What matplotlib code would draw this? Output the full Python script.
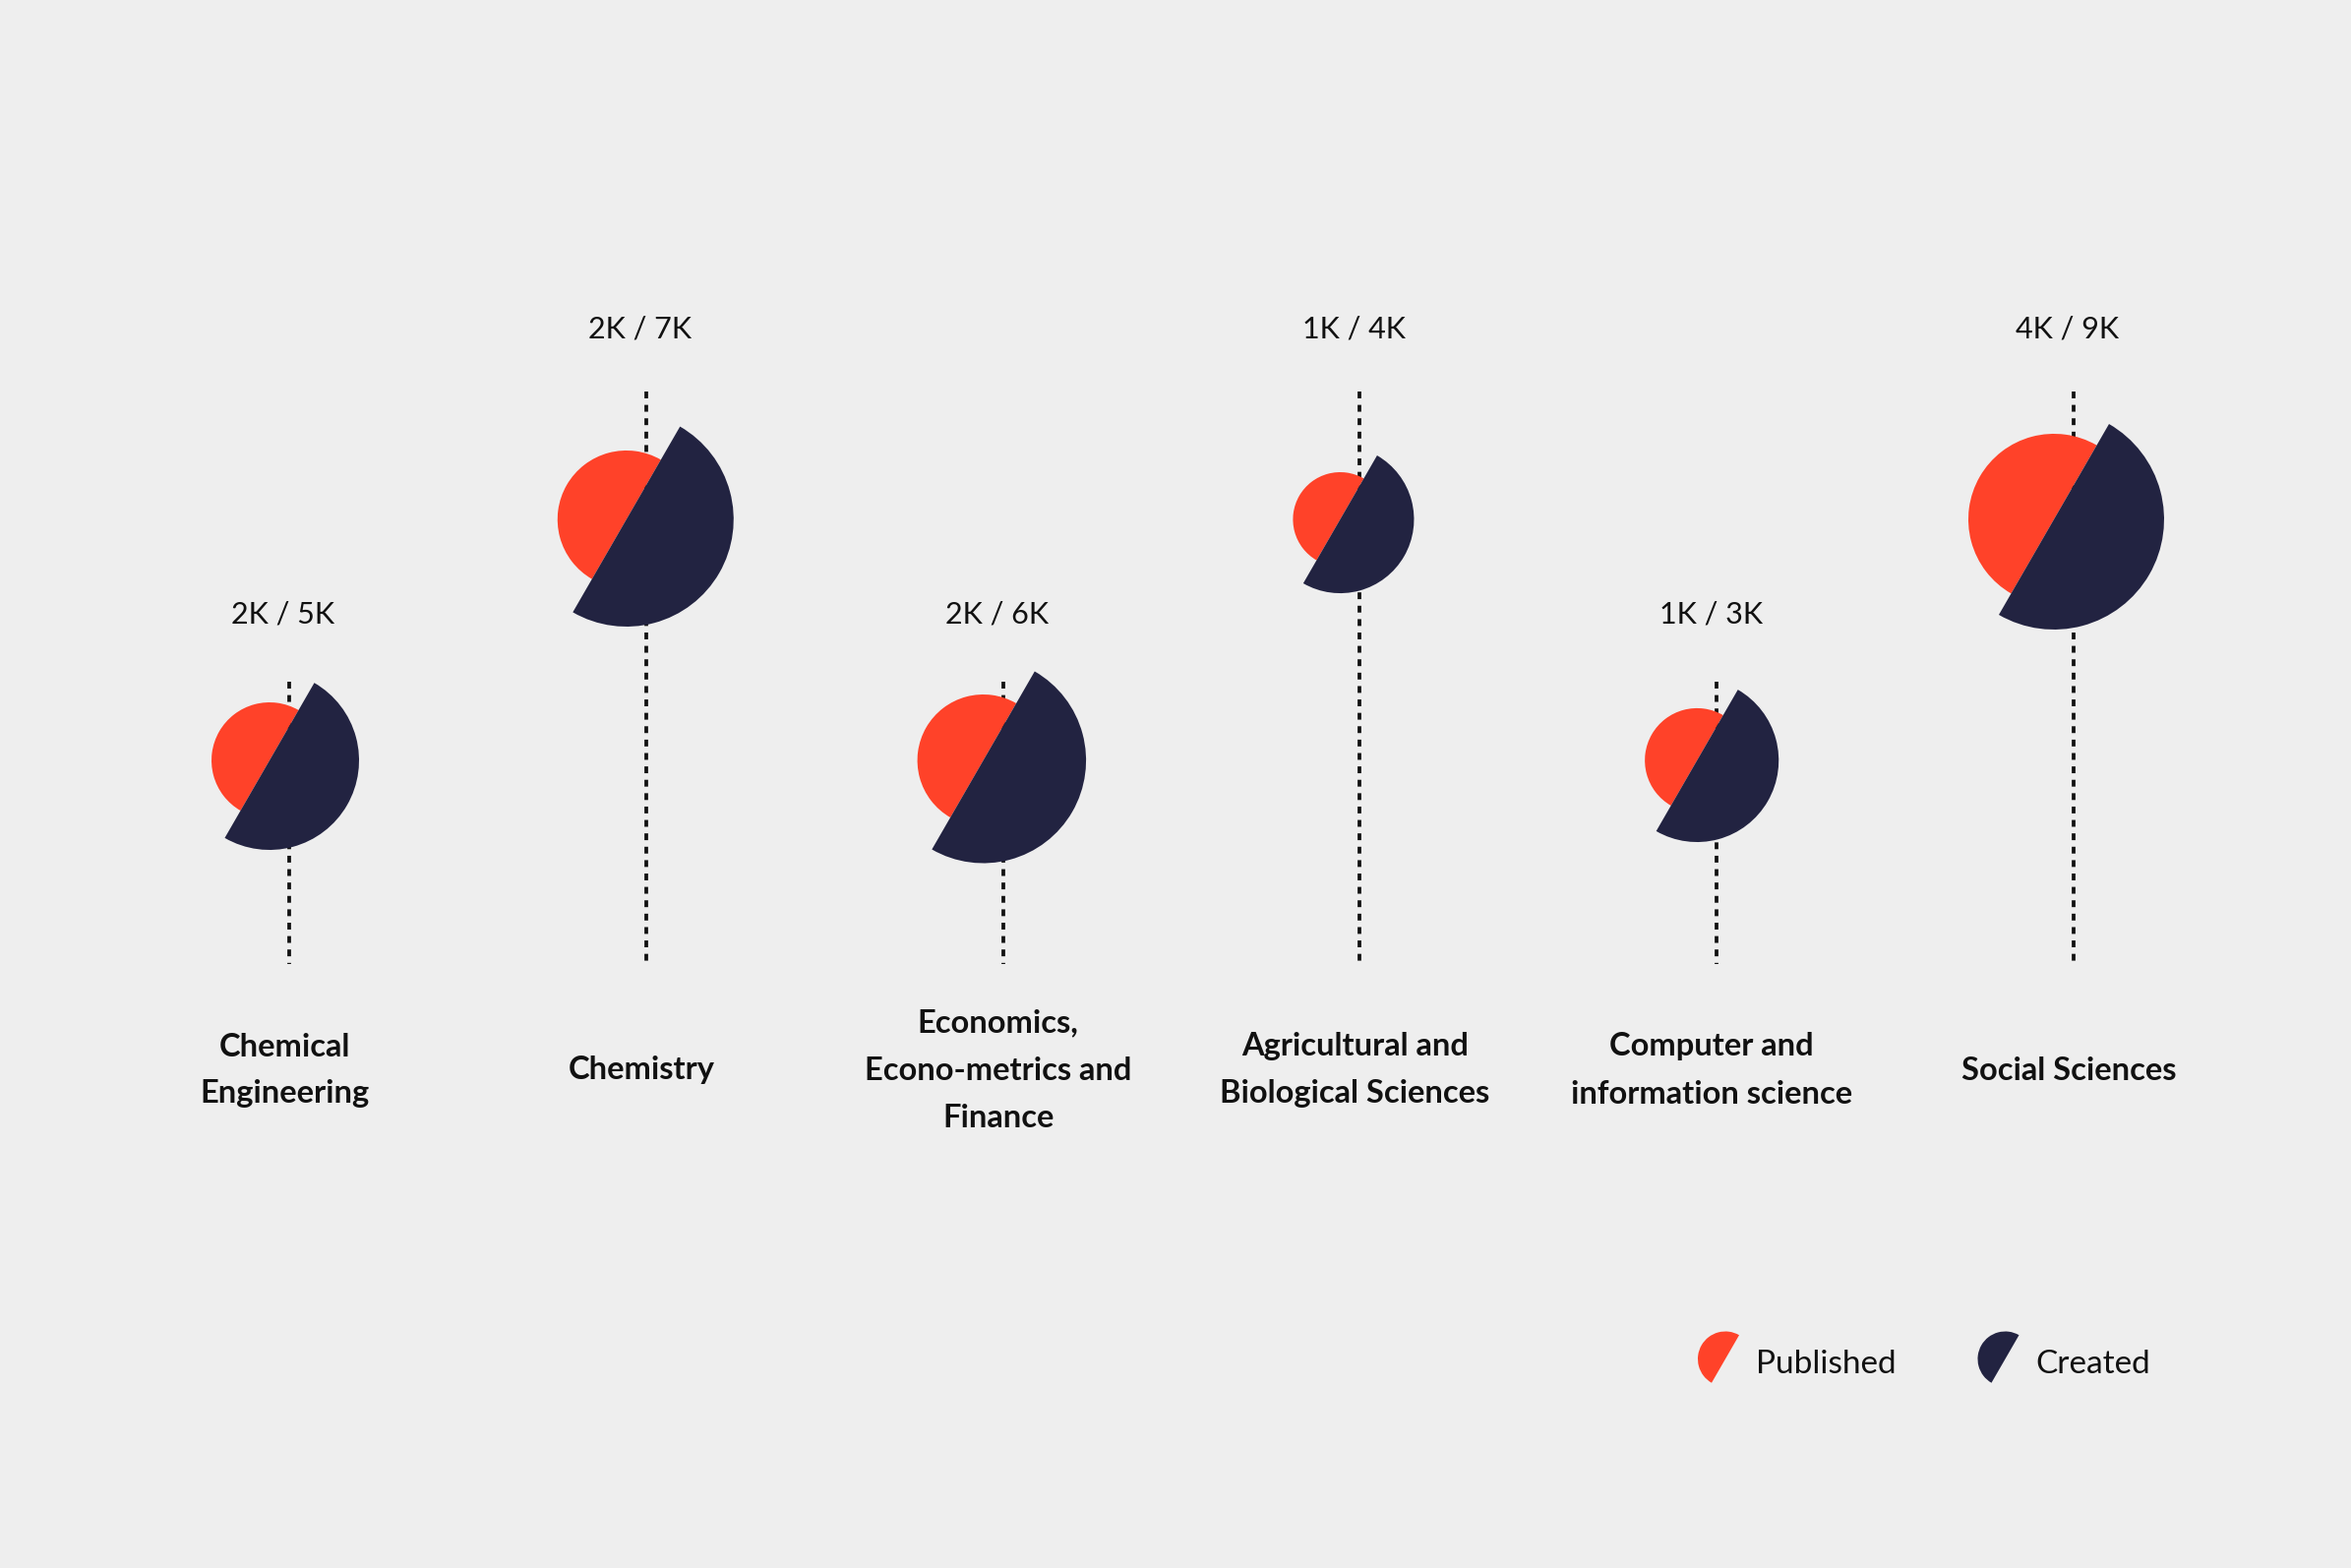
import numpy as np
import matplotlib
matplotlib.use("Agg")
import matplotlib.pyplot as plt
from matplotlib.patches import Wedge

# data (values in thousands)
categories = ["Chemical\nEngineering", "Chemistry", "Economics,\nEcono-metrics and\nFinance",
              "Agricultural and\nBiological Sciences", "Computer and\ninformation science",
              "Social Sciences"]
value_labels = ["2K / 5K", "2K / 7K", "2K / 6K", "1K / 4K", "1K / 3K", "4K / 9K"]
published = [2.10, 2.96, 2.71, 1.39, 1.70, 4.57]
created = [5.00, 7.17, 6.59, 3.40, 4.16, 7.57]
legend_names = ["Published", "Created"]

RED = "#FF4229"
NAVY = "#222341"
BG = "#EEEEEE"
W, H = 2390, 1594

plt.rcParams['lines.scale_dashes'] = False
plt.rcParams['font.family'] = ['Lato', 'DejaVu Sans']

fig = plt.figure(figsize=(W / 100, H / 100), dpi=100, facecolor=BG)
ax = fig.add_axes([0, 0, 1, 1])
ax.set_xlim(0, W)
ax.set_ylim(H, 0)  # pixel-like coords, y down
ax.axis('off')
ax.set_facecolor(BG)

x0, step = 294, 362.8
r_scale = 40.7  # px per sqrt(thousand)
line_bottom = 980

for i, cat in enumerate(categories):
    x = x0 + i * step
    high = i % 2 == 1
    cy = 528 if high else 773
    top = 398 if high else 693
    lab_y = 334 if high else 624

    ax.plot([x, x], [top, line_bottom], color="#111111", lw=2.7,
            dashes=(5, 4.8), solid_capstyle='butt', zorder=1)

    cx = x - 20
    rp = r_scale * np.sqrt(published[i])
    rc = r_scale * np.sqrt(created[i])
    # y axis is inverted, so angles run clockwise on screen
    ax.add_patch(Wedge((cx, cy), rp, 120, 300, facecolor=RED, edgecolor='none', zorder=2))
    ax.add_patch(Wedge((cx, cy), rc, -60, 120, facecolor=NAVY, edgecolor='none', zorder=3))

    ax.text(x - 6, lab_y, value_labels[i], ha='center', va='center',
            fontsize=22, fontweight='normal', color="#111111")

    lines = cat.split("\n")
    n = len(lines)
    for k, ln in enumerate(lines):
        ax.text(x - 5, 1088 + (k - (n - 1) / 2) * 48, ln, ha='center', va='center',
                fontsize=23.5, fontweight='bold', color="#111111")

# legend
for j, (name, col) in enumerate(zip(legend_names, [RED, NAVY])):
    lx = 1754 + j * 284.5
    ax.add_patch(Wedge((lx, 1381.5), 28, 120, 300, facecolor=col, edgecolor='none'))
    ax.text(lx + 31, 1387, name, ha='left', va='center', fontsize=24,
            fontweight='normal', color="#111111")

fig.savefig("out.png", dpi=100, facecolor=BG)
